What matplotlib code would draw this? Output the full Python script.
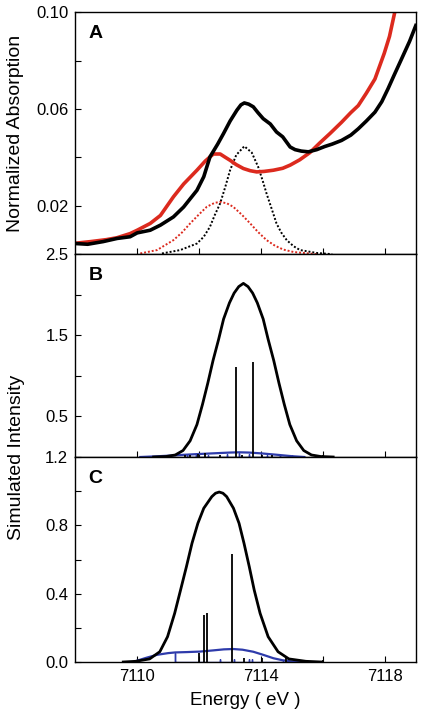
import matplotlib
matplotlib.use("Agg")
import matplotlib.pyplot as plt

plt.rcParams['font.family'] = ['Liberation Sans', 'DejaVu Sans']

# ---- panel A: normalized absorption ----
a_black_e = [7108.0, 7108.4, 7108.9, 7109.35, 7109.77, 7110.0, 7110.42, 7110.75, 7111.17, 7111.5,
             7111.93, 7112.15, 7112.35, 7112.6, 7112.79, 7113.0, 7113.22, 7113.35, 7113.46, 7113.6,
             7113.75, 7113.9, 7114.07, 7114.3, 7114.5, 7114.7, 7114.94, 7115.1, 7115.3, 7115.53,
             7115.8, 7116.06, 7116.3, 7116.6, 7116.9, 7117.14, 7117.4, 7117.68, 7117.9, 7118.1,
             7118.3, 7118.54, 7118.8, 7119.0]
a_black_y = [0.0044, 0.0041, 0.0052, 0.0065, 0.0072, 0.0088, 0.0099, 0.0120, 0.0154, 0.0195,
             0.0264, 0.0320, 0.0402, 0.0455, 0.0499, 0.0550, 0.0595, 0.0617, 0.0625, 0.0620,
             0.0609, 0.0585, 0.0560, 0.0538, 0.0505, 0.0485, 0.0443, 0.0432, 0.0426, 0.0423,
             0.0432, 0.0445, 0.0455, 0.0470, 0.0492, 0.0518, 0.0550, 0.0587, 0.0630, 0.0683,
             0.0740, 0.0807, 0.0880, 0.0945]

a_red_e = [7108.0, 7108.5, 7109.0, 7109.35, 7109.77, 7110.0, 7110.42, 7110.75, 7111.17, 7111.5,
           7111.93, 7112.2, 7112.46, 7112.68, 7112.85, 7113.0, 7113.2, 7113.43, 7113.65, 7113.86,
           7114.1, 7114.4, 7114.7, 7114.94, 7115.25, 7115.58, 7115.9, 7116.23, 7116.6, 7116.9,
           7117.14, 7117.4, 7117.68, 7117.98, 7118.15, 7118.32, 7118.4]
a_red_y = [0.0045, 0.0052, 0.0060, 0.0068, 0.0085, 0.0099, 0.0127, 0.0160, 0.0237, 0.0290,
           0.0347, 0.0385, 0.0414, 0.0414, 0.0400, 0.0388, 0.0370, 0.0354, 0.0345, 0.0340,
           0.0342, 0.0347, 0.0355, 0.0368, 0.0390, 0.0420, 0.0460, 0.0499, 0.0545, 0.0585,
           0.0614, 0.0665, 0.0724, 0.0830, 0.0900, 0.1000, 0.1040]

a_black_fit_e = [7110.8, 7111.39, 7111.93, 7112.15, 7112.35, 7112.5, 7112.68, 7112.85, 7113.0, 7113.2,
                 7113.46, 7113.7, 7113.91, 7114.05, 7114.18, 7114.35, 7114.5, 7114.65, 7114.83, 7115.05,
                 7115.26, 7115.8, 7116.3]
a_black_fit_y = [0.0003, 0.0017, 0.0044, 0.0072, 0.0113, 0.0160, 0.0210, 0.0280, 0.0347, 0.0410,
                 0.0446, 0.0420, 0.0360, 0.0305, 0.0250, 0.0185, 0.0127, 0.0090, 0.0058, 0.0033,
                 0.0017, 0.0005, 0.0]

a_red_fit_e = [7110.1, 7110.64, 7111.17, 7111.45, 7111.71, 7112.0, 7112.25, 7112.5, 7112.68, 7112.9,
               7113.1, 7113.38, 7113.65, 7113.9, 7114.18, 7114.45, 7114.72, 7115.05, 7115.37, 7115.8]
a_red_fit_y = [0.0003, 0.0017, 0.0058, 0.0090, 0.0127, 0.0165, 0.0196, 0.0212, 0.0216, 0.0210,
               0.0196, 0.0163, 0.0127, 0.0092, 0.0058, 0.0035, 0.0019, 0.0009, 0.0005, 0.0]

# ---- panel B: simulated intensity ----
b_curve_e = [7110.53, 7110.93, 7111.23, 7111.48, 7111.71, 7111.93, 7112.11, 7112.28, 7112.45, 7112.63,
             7112.79, 7112.98, 7113.13, 7113.28, 7113.43, 7113.58, 7113.73, 7113.88, 7114.07, 7114.23,
             7114.41, 7114.58, 7114.75, 7114.93, 7115.15, 7115.38, 7115.63, 7115.93, 7116.33]
b_curve_y = [0.0, 0.006, 0.025, 0.08, 0.20, 0.40, 0.65, 0.91, 1.19, 1.45,
             1.70, 1.90, 2.02, 2.10, 2.14, 2.10, 2.02, 1.90, 1.70, 1.45,
             1.19, 0.91, 0.65, 0.40, 0.20, 0.08, 0.025, 0.006, 0.0]
b_blue_e = [7110.1, 7110.6, 7111.0, 7111.5, 7112.0, 7112.5, 7113.0, 7113.3, 7113.6, 7114.0, 7114.5, 7115.0, 7115.4]
b_blue_y = [0.0, 0.008, 0.016, 0.027, 0.037, 0.046, 0.055, 0.058, 0.055, 0.045, 0.028, 0.01, 0.0]
b_stick_e = [7111.55, 7111.71, 7111.98, 7112.19, 7112.68, 7113.19, 7113.38, 7113.75, 7114.02, 7114.34, 7116.0]
b_stick_y = [0.03, 0.03, 0.04, 0.05, 0.02, 1.11, 0.03, 1.17, 0.03, 0.02, 0.03]
b_blue_stick_e = [7111.6, 7111.9, 7112.3, 7112.9, 7113.3, 7113.6, 7114.2, 7114.6, 7115.0]
b_blue_stick_y = [0.03, 0.04, 0.03, 0.04, 0.05, 0.04, 0.03, 0.03, 0.02]

# ---- panel C: simulated intensity ----
c_curve_e = [7109.55, 7109.95, 7110.40, 7110.73, 7110.98, 7111.21, 7111.40, 7111.59, 7111.77, 7111.96,
             7112.15, 7112.41, 7112.53, 7112.65, 7112.77, 7112.89, 7113.11, 7113.29, 7113.45, 7113.62,
             7113.78, 7113.97, 7114.23, 7114.55, 7114.90, 7115.45, 7115.95]
c_curve_y = [0.0, 0.004, 0.018, 0.06, 0.148, 0.285, 0.421, 0.558, 0.695, 0.812,
             0.90, 0.968, 0.988, 0.995, 0.988, 0.968, 0.90, 0.812, 0.695, 0.558,
             0.421, 0.285, 0.148, 0.06, 0.018, 0.004, 0.0]
c_blue_e = [7109.9, 7110.0, 7110.3, 7110.64, 7111.0, 7111.23, 7111.6, 7112.03, 7112.46, 7112.8,
            7113.1, 7113.4, 7113.75, 7114.07, 7114.4, 7114.7, 7114.96, 7115.3]
c_blue_y = [0.0, 0.008, 0.025, 0.042, 0.052, 0.056, 0.058, 0.061, 0.068, 0.074,
            0.076, 0.072, 0.06, 0.042, 0.022, 0.01, 0.004, 0.0]
c_stick_e = [7112.0, 7112.16, 7112.27, 7113.05, 7113.46, 7114.02, 7114.8, 7116.0]
c_stick_y = [0.051, 0.275, 0.285, 0.63, 0.021, 0.025, 0.031, 0.013]
c_blue_stick_e = [7111.23, 7112.68, 7113.13, 7113.6, 7113.7, 7114.72]
c_blue_stick_y = [0.055, 0.02, 0.02, 0.015, 0.015, 0.004]

RED = '#dc2a1e'
BLUE = '#2e3bab'

fig = plt.figure(figsize=(4.23, 7.18), dpi=100)
L, W = 0.178, 0.805
axA = fig.add_axes([L, 0.646, W, 0.337])
axB = fig.add_axes([L, 0.3635, W, 0.2825], sharex=axA)
axC = fig.add_axes([L, 0.078, W, 0.2855], sharex=axA)


def stick_line(ax, es, hs, color, lw):
    # stick spectrum drawn as one connected trace along the baseline
    xs, ys = [], []
    for e, h in zip(es, hs):
        xs += [e, e, e]
        ys += [0, h, 0]
    ax.plot(xs, ys, color=color, lw=lw, solid_joinstyle='miter')


axA.plot(a_black_fit_e, a_black_fit_y, color='black', lw=1.4, ls=(0, (1, 1)))
axA.plot(a_red_fit_e, a_red_fit_y, color=RED, lw=1.4, ls=(0, (1, 1)))
axA.plot(a_red_e, a_red_y, color=RED, lw=2.6)
axA.plot(a_black_e, a_black_y, color='black', lw=2.6)
axA.set_ylim(0, 0.10)
axA.set_yticks([0.0, 0.02, 0.04, 0.06, 0.08, 0.10])
axA.set_yticklabels(['', '0.02', '', '0.06', '', '0.10'])

axB.plot(b_blue_e, b_blue_y, color=BLUE, lw=1.6)
stick_line(axB, b_blue_stick_e, b_blue_stick_y, BLUE, 1.0)
axB.vlines(b_stick_e, 0, b_stick_y, color='black', lw=1.3)
axB.plot(b_curve_e, b_curve_y, color='black', lw=2.0)
axB.set_ylim(0, 2.5)
axB.set_yticks([0.0, 0.5, 1.0, 1.5, 2.0, 2.5])
axB.set_yticklabels(['', '0.5', '', '1.5', '', '2.5'])

axC.plot(c_blue_e, c_blue_y, color=BLUE, lw=1.6)
stick_line(axC, c_blue_stick_e, c_blue_stick_y, BLUE, 1.0)
axC.vlines(c_stick_e, 0, c_stick_y, color='black', lw=1.3)
axC.plot(c_curve_e, c_curve_y, color='black', lw=2.0)
axC.set_ylim(0, 1.2)
axC.set_yticks([0.0, 0.2, 0.4, 0.6, 0.8, 1.0, 1.2])
axC.set_yticklabels(['0.0', '', '0.4', '', '0.8', '', '1.2'])

axC.set_xlim(7108, 7119)
axC.set_xticks([7110, 7112, 7114, 7116, 7118])
for ax in (axA, axB):
    ax.tick_params(axis='x', labelbottom=False)
axC.set_xticklabels(['7110', '', '7114', '', '7118'])
axC.set_xlabel('Energy ( eV )', fontsize=13.5, labelpad=6)

for ax, letter in zip((axA, axB, axC), 'ABC'):
    ax.tick_params(direction='in', length=4, width=0.8, labelsize=12, pad=5)
    for s in ax.spines.values():
        s.set_linewidth(1.0)
    ax.annotate(letter, xy=(0, 1), xycoords='axes fraction', xytext=(13, -13),
                textcoords='offset pixels', fontsize=14, fontweight='bold',
                va='top', ha='left')

axA.set_ylabel('Normalized Absorption', fontsize=14)
axA.yaxis.set_label_coords(-0.152, 0.5)
fig.text(0.038, 0.363, 'Simulated Intensity', rotation=90, fontsize=14,
         va='center', ha='center')

fig.savefig('out.png', dpi=100)
